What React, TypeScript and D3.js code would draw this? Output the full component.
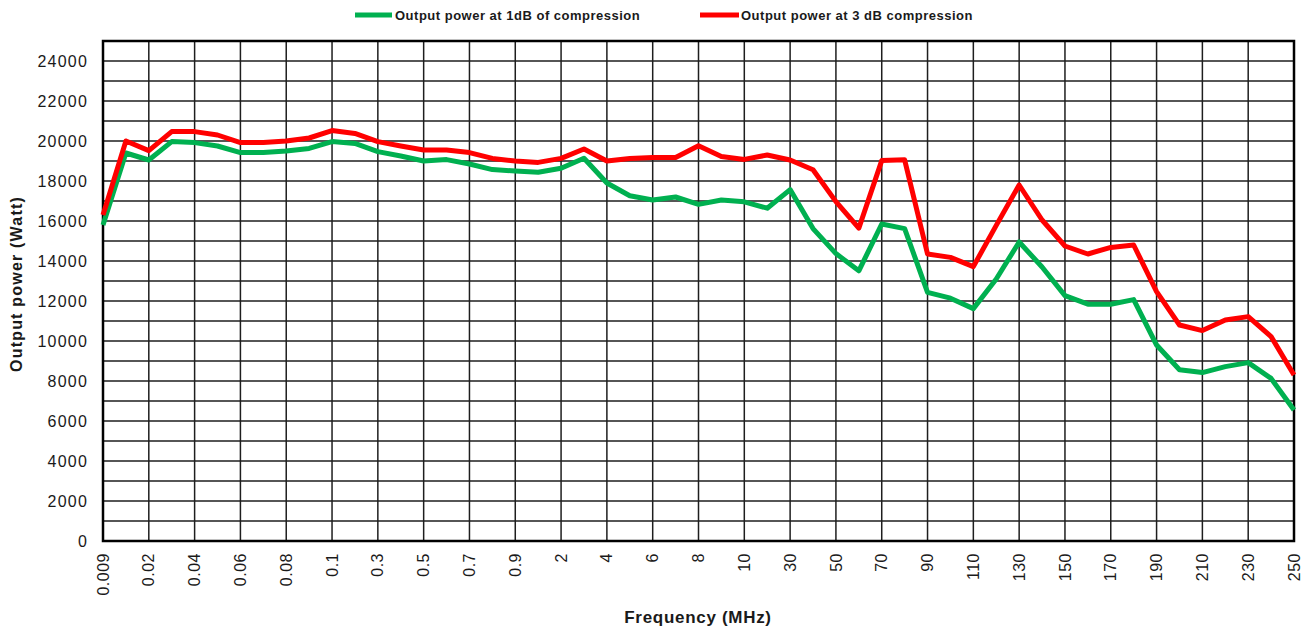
import React from "react";
import * as d3 from "d3";

const categories = [
  "0.009", "0.01", "0.02", "0.03", "0.04", "0.05", "0.06", "0.07", "0.08", "0.09",
  "0.1", "0.2", "0.3", "0.4", "0.5", "0.6", "0.7", "0.8", "0.9", "1",
  "2", "3", "4", "5", "6", "7", "8", "9", "10", "20",
  "30", "40", "50", "60", "70", "80", "90", "100", "110", "120",
  "130", "140", "150", "160", "170", "180", "190", "200", "210", "220",
  "230", "240", "250",
];

const power1dB = [
  15800, 19400, 19050, 19970, 19920, 19750, 19420, 19420, 19500, 19630,
  19970, 19880, 19470, 19250, 19000, 19070, 18850, 18570, 18500, 18440,
  18640, 19140, 17900, 17260, 17050, 17200, 16830, 17050, 16960, 16640,
  17570, 15620, 14370, 13510, 15850, 15620, 12430, 12140, 11620, 13100,
  14950, 13700, 12270, 11840, 11840, 12070, 9800, 8560, 8420, 8720,
  8920, 8130, 6550,
];

const power3dB = [
  16300, 20000, 19520, 20470, 20470, 20300, 19920, 19920, 20000, 20150,
  20520, 20380, 19970, 19750, 19550, 19550, 19420, 19130, 19000, 18930,
  19130, 19600, 19000, 19130, 19170, 19180, 19760, 19220, 19080, 19300,
  19050, 18560, 16970, 15640, 19020, 19060, 14350, 14180, 13720, 15780,
  17800, 16050, 14750, 14350, 14680, 14800, 12470, 10800, 10520, 11050,
  11220, 10220, 8300,
];

const seriesNames = [
  "Output power at 1dB of compression",
  "Output power at 3 dB compression",
];
const seriesColors = ["#00B050", "#FF0000"];

const yTicks = [0, 2000, 4000, 6000, 8000, 10000, 12000, 14000, 16000, 18000, 20000, 22000, 24000];
const yGrid = d3.range(0, 25001, 1000);
const xTickLabels = categories.filter((_, i) => i % 2 === 0);

const W = 1306;
const H = 631;
const M = { left: 103, right: 1294, top: 41, bottom: 541 };
const FONT = "'Liberation Sans', Arial, sans-serif";

export default function App() {
  const x = d3.scalePoint<string>().domain(categories).range([M.left, M.right]);
  const y = d3.scaleLinear().domain([0, 25000]).range([M.bottom, M.top]);

  const line = d3
    .line<number>()
    .x((_, i) => x(categories[i]) as number)
    .y((d) => y(d));

  const series = [power1dB, power3dB];

  return (
    <svg
      width={W}
      height={H}
      style={{ position: "absolute", left: 0, top: 0, display: "block", background: "#fff" }}
      fontFamily={FONT}
    >
      <rect x={0} y={0} width={W} height={H} fill="#fff" />
      {yGrid.map((v) => (
        <line key={"h" + v} x1={M.left} x2={M.right} y1={y(v)} y2={y(v)} stroke="#1e1e1e" strokeWidth={1.5} />
      ))}
      {xTickLabels.map((c) => (
        <line key={"v" + c} x1={x(c)} x2={x(c)} y1={M.top} y2={M.bottom} stroke="#1e1e1e" strokeWidth={1.5} />
      ))}
      <rect
        x={M.left}
        y={M.top}
        width={M.right - M.left}
        height={M.bottom - M.top}
        fill="none"
        stroke="#000"
        strokeWidth={2.5}
      />
      {yTicks.map((v) => (
        <text
          key={"yt" + v}
          x={88}
          y={y(v)}
          dy="0.35em"
          textAnchor="end"
          fontSize={16}
          letterSpacing={1.2}
          fill="#1a1a1a"
        >
          {v}
        </text>
      ))}
      {xTickLabels.map((c) => (
        <text
          key={"xt" + c}
          transform={`translate(${x(c)},${553}) rotate(-90)`}
          dy="0.35em"
          textAnchor="end"
          fontSize={16}
          letterSpacing={0.5}
          fill="#1a1a1a"
        >
          {c}
        </text>
      ))}
      {series.map((s, i) => (
        <path
          key={"s" + i}
          d={line(s) as string}
          fill="none"
          stroke={seriesColors[i]}
          strokeWidth={5}
          strokeLinejoin="round"
        />
      ))}
      <text
        transform={`translate(22,${284}) rotate(-90)`}
        textAnchor="middle"
        fontSize={16}
        fontWeight="bold"
        letterSpacing={1.2}
        fill="#1a1a1a"
      >
        Output power (Watt)
      </text>
      <text x={698} y={623} textAnchor="middle" fontSize={17} fontWeight="bold" letterSpacing={0.7} fill="#1a1a1a">
        Frequency (MHz)
      </text>
      {[
        { x0: 355, x1: 392, tx: 395 },
        { x0: 700, x1: 739, tx: 741 },
      ].map((l, i) => (
        <g key={"lg" + i}>
          <line x1={l.x0} x2={l.x1} y1={15} y2={15} stroke={seriesColors[i]} strokeWidth={5} />
          <text x={l.tx} y={15} dy="0.35em" fontSize={13} letterSpacing={0.5} fontWeight="bold" fill="#1a1a1a">
            {seriesNames[i]}
          </text>
        </g>
      ))}
    </svg>
  );
}
